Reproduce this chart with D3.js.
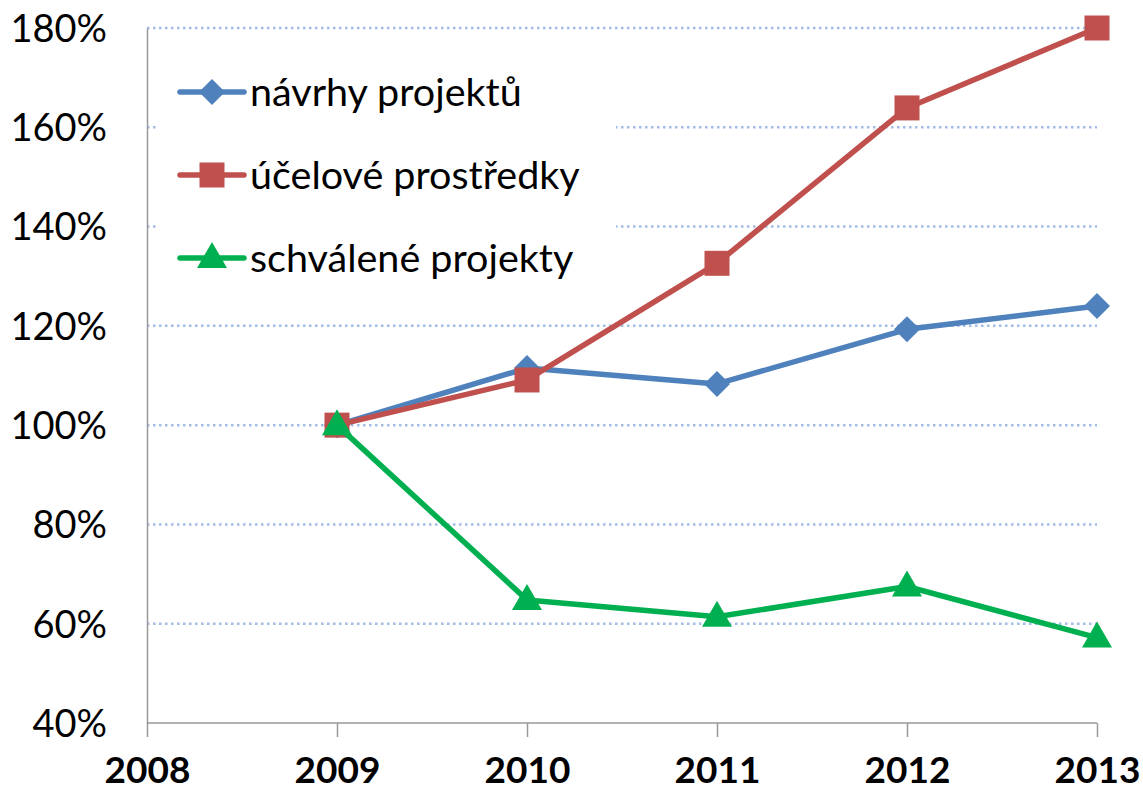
<!DOCTYPE html>
<html><head><meta charset="utf-8">
<script src="https://cdn.jsdelivr.net/npm/d3@7"></script>
<style>body{margin:0;background:#fff}svg{display:block}</style>
</head><body><svg id="c" width="1143" height="797"></svg>
<script>
const years = [2009, 2010, 2011, 2012, 2013];
const xTicks = [2008, 2009, 2010, 2011, 2012, 2013];
const yTicks = [40, 60, 80, 100, 120, 140, 160, 180];
const navrhy = [100, 111.5, 108.3, 119.3, 124.0];
const ucelove = [100, 109.1, 132.6, 163.9, 180.0];
const schvalene = [100, 64.8, 61.4, 67.5, 57.2];
const seriesNames = ["návrhy projektů", "účelové prostředky", "schválené projekty"];
const seriesColors = ["#4F81BD", "#C0504D", "#00B050"];
const seriesMarkers = ["diamond", "square", "triangle"];
const seriesData = [navrhy, ucelove, schvalene];

const svg = d3.select("#c");
const x = d3.scaleLinear().domain([2008, 2013]).range([147, 1097]);
const y = d3.scaleLinear().domain([40, 180]).range([723, 28]);
const font = "Lato, 'Open Sans', sans-serif";

// gridlines
svg.append("g").selectAll("line").data(yTicks.filter(d => d > 40)).join("line")
  .attr("x1", x(2008)).attr("x2", x(2013))
  .attr("y1", d => y(d)).attr("y2", d => y(d))
  .attr("stroke", "#A3BCE6").attr("stroke-width", 2.5).attr("stroke-dasharray", "2.5,3.5");

// axes
const yAxis = d3.axisLeft(y).tickValues(yTicks).tickSize(0).tickPadding(40).tickFormat(d => d + "%");
const gy = svg.append("g").attr("transform", `translate(${x(2008)},0)`).call(yAxis);
gy.select(".domain").attr("stroke", "#999").attr("stroke-width", 1.5);
gy.selectAll("text").attr("font-family", font).attr("font-size", 38).attr("fill", "#000").attr("dy", "0.35em");

const xAxis = d3.axisBottom(x).tickValues(xTicks).tickSize(14).tickPadding(20).tickFormat(d3.format("d"));
const gx = svg.append("g").attr("transform", `translate(0,${y(40)})`).call(xAxis);
gx.select(".domain").attr("stroke", "#999").attr("stroke-width", 1.5).attr("d", `M${x(2008)},0H${x(2013)}`);
gx.selectAll(".tick line").attr("stroke", "#999").attr("stroke-width", 1.5);
gx.selectAll("text").attr("font-family", font).attr("font-size", 37).attr("font-weight", "bold").attr("fill", "#000");

// legend background
const legend = svg.append("g");
legend.append("rect").attr("x", 156).attr("y", 45).attr("width", 460).attr("height", 250).attr("fill", "#fff");

function marker(g, type, cx, cy, color) {
  if (type === "diamond") {
    g.append("path").attr("d", `M${cx},${cy-13}L${cx+13},${cy}L${cx},${cy+13}L${cx-13},${cy}Z`).attr("fill", color);
  } else if (type === "square") {
    g.append("rect").attr("x", cx-12.5).attr("y", cy-12.5).attr("width", 25).attr("height", 25).attr("fill", color);
  } else {
    g.append("path").attr("d", `M${cx},${cy-16}L${cx+15},${cy+10}L${cx-15},${cy+10}Z`).attr("fill", color);
  }
}

const line = d3.line().x((d, i) => x(years[i])).y(d => y(d));
seriesData.forEach((data, s) => {
  const g = svg.append("g");
  g.append("path").attr("d", line(data)).attr("fill", "none")
    .attr("stroke", seriesColors[s]).attr("stroke-width", 5.5).attr("stroke-linejoin", "round");
  data.forEach((d, i) => marker(g, seriesMarkers[s], x(years[i]), y(d), seriesColors[s]));
});

seriesNames.forEach((name, s) => {
  const ly = 92 + s * 83;
  const g = legend.append("g");
  g.append("line").attr("x1", 180).attr("x2", 244).attr("y1", ly).attr("y2", ly)
    .attr("stroke", seriesColors[s]).attr("stroke-width", 5.5).attr("stroke-linecap", "round");
  marker(g, seriesMarkers[s], 212, ly, seriesColors[s]);
  g.append("text").attr("x", 250).attr("y", ly).attr("dy", "0.35em")
    .attr("font-family", font).attr("font-size", 39.5).text(name);
});
</script></body></html>
